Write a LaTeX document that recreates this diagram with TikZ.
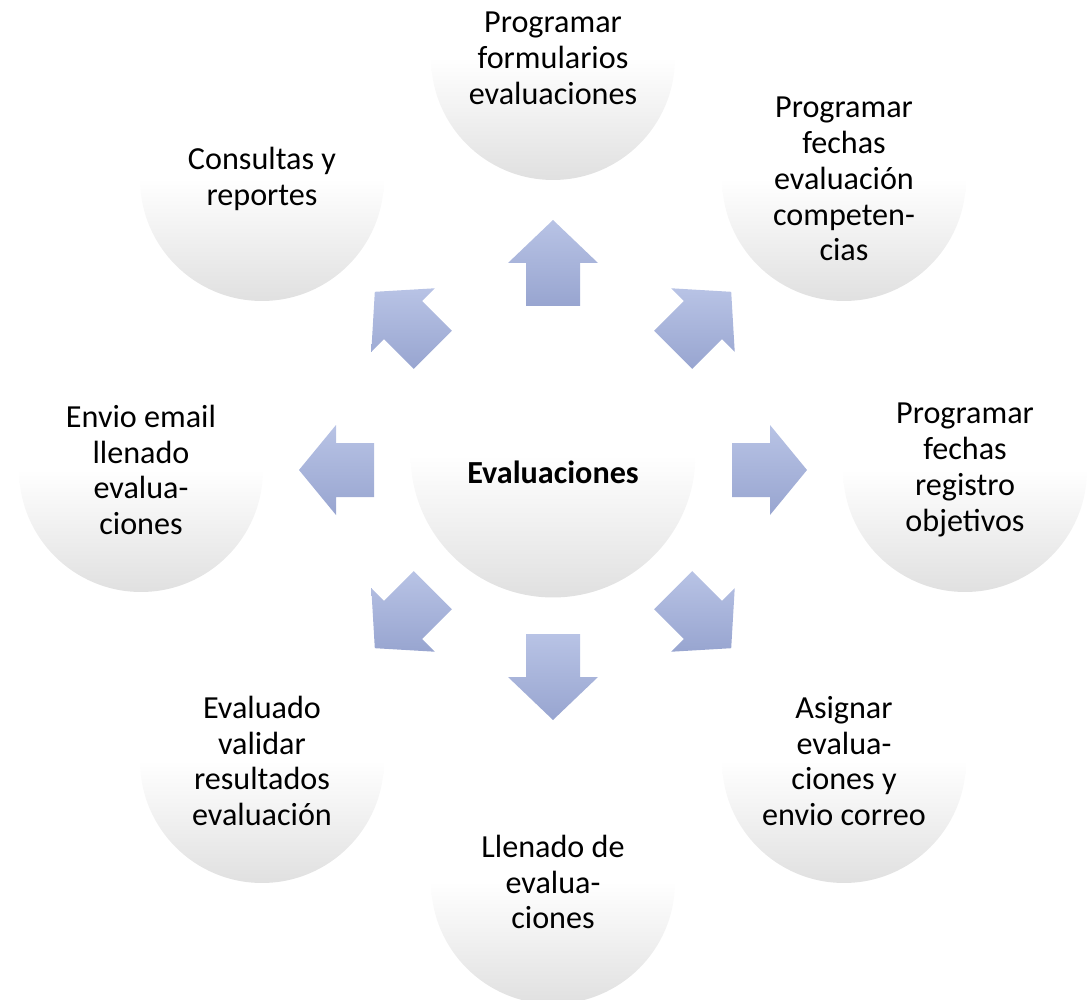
\documentclass[tikz,border=0pt]{standalone}
\usepackage{fontspec}
\setmainfont{Carlito}
\usetikzlibrary{calc}
\definecolor{circbot}{RGB}{224,224,224}
\definecolor{arrtop}{RGB}{184,195,229}
\definecolor{arrbot}{RGB}{152,165,208}
\tikzset{
  ball/.style={circle, inner sep=0pt, top color=white, bottom color=circbot, middle color=white,
    align=center, text=black, font=\fontsize{18.3}{20.4}\selectfont},
  outerball/.style={ball, minimum size=4.88cm},
  centreball/.style={ball, minimum size=5.7cm},
  centretext/.style={font=\bfseries\fontsize{18.3}{20.4}\selectfont, text=black},
  arrowfill/.style={top color=arrtop, bottom color=arrbot, draw=none}
}
\newcommand\blockarrow[4]{%
  \path[arrowfill]
    ($(C)+(#1:#2)+(#1+90:27)$) -- ($(C)+(#1:#3)+(#1+90:27)$) --
    ($(C)+(#1:#3)+(#1+90:45)$) -- ($(C)+(#1:#4)$) --
    ($(C)+(#1:#3)+(#1-90:45)$) -- ($(C)+(#1:#3)+(#1-90:27)$) --
    ($(C)+(#1:#2)+(#1-90:27)$) -- cycle;}
\begin{document}
\begin{tikzpicture}[x=0.02cm, y=-0.02cm]
  \useasboundingbox (0,0) rectangle (1089,1000);
  \clip (0,0) rectangle (1089,1000);
  \coordinate (C) at (553,470);
  \node[centreball] (centre) at (553,455) {};
  \node[centretext] (centrelabel) at (553,472) {Evaluaciones};
  \node[outerball] (n1) at (553,58)  {Programar\\formularios\\evaluaciones};
  \node[outerball] (n2) at (844,179) {Programar\\fechas\\evaluación\\competen-\\cias};
  \node[outerball] (n3) at (965,470) {Programar\\fechas\\registro\\objetivos};
  \node[outerball] (n4) at (844,761) {Asignar\\evalua-\\ciones y\\envio correo};
  \node[outerball] (n5) at (553,882) {Llenado de\\evalua-\\ciones};
  \node[outerball] (n6) at (262,761) {Evaluado\\validar\\resultados\\evaluación};
  \node[outerball] (n7) at (141,470) {Envio email\\llenado\\evalua-\\ciones};
  \node[outerball] (n8) at (262,179) {Consultas y\\reportes};
  \blockarrow{-90}{164}{207}{250}
  \blockarrow{-45}{170}{212}{252}
  \blockarrow{0}{179}{217}{254}
  \blockarrow{45}{170}{212}{252}
  \blockarrow{90}{164}{207}{250}
  \blockarrow{135}{170}{212}{252}
  \blockarrow{180}{179}{217}{254}
  \blockarrow{-135}{170}{212}{252}
\end{tikzpicture}
\end{document}
